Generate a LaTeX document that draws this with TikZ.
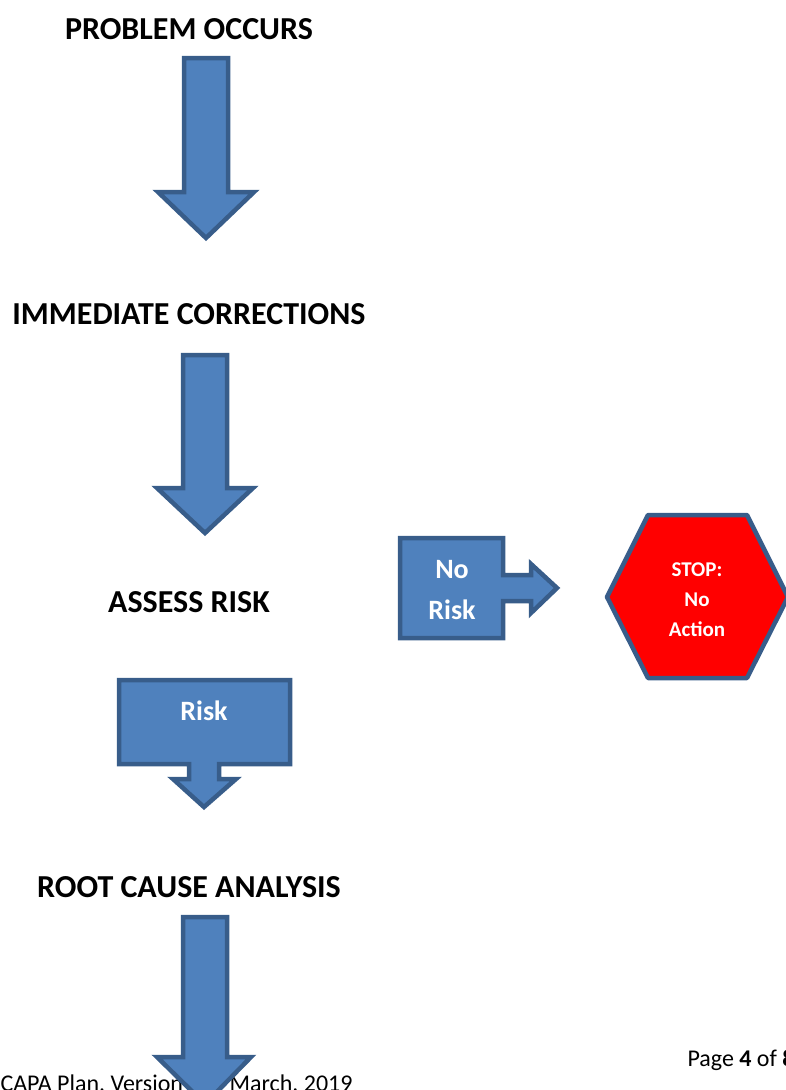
\documentclass[tikz,border=0pt]{standalone}
\usepackage{fontspec}
\setmainfont{Carlito}
\usetikzlibrary{positioning}

\definecolor{arrfill}{HTML}{4F81BD}
\definecolor{arredge}{HTML}{385D8A}
\definecolor{stopred}{HTML}{FF0000}

\tikzset{
  blockarr/.style={draw=arredge, fill=arrfill, line width=4.5pt, line join=miter},
  stopbox/.style={draw=arredge, fill=stopred, line width=4.5pt, line join=round},
  heading/.style={font=\fontsize{32}{38}\selectfont\bfseries, anchor=base},
  calltext/.style={font=\fontsize{28}{41}\selectfont\bfseries, text=white, align=center},
  stoptext/.style={font=\fontsize{21}{30}\selectfont\bfseries, text=white, align=center},
  footer/.style={font=\fontsize{24}{28}\selectfont, anchor=base west}
}

\begin{document}
\begin{tikzpicture}[x=1pt,y=-1pt]
    \useasboundingbox (0,0) rectangle (786,1090);

    % headings
    \node[heading] (prob)   at (189,39)  {PROBLEM OCCURS};
    \node[heading] (imm)    at (189,324) {IMMEDIATE CORRECTIONS};
    \node[heading] (assess) at (189,612) {ASSESS RISK};
    \node[heading] (root)   at (189,897) {ROOT CAUSE ANALYSIS};

    % footer
    \node[footer] (ver)  at (-3,1091) {CAPA Plan, Version 1, 7 March, 2019};
    \node[footer] (page) at (684,1066) {Page \textbf{4} of \textbf{8}};

    % down arrows
    \draw[blockarr] (184,58) -- (228,58) -- (228,192) -- (254,192) -- (206,238)
        -- (158,192) -- (184,192) -- cycle;
    \draw[blockarr] (183,355) -- (227,355) -- (227,488) -- (253,488) -- (205,533)
        -- (157,488) -- (183,488) -- cycle;
    \draw[blockarr] (183,917) -- (227,917) -- (227,1057) -- (251,1057) -- (205,1104)
        -- (157,1057) -- (183,1057) -- cycle;

    % risk callout
    \draw[blockarr] (119,680) -- (290,680) -- (290,764) -- (219,764) -- (219,779)
        -- (236,779) -- (204,807) -- (173,779) -- (189,779) -- (189,764)
        -- (119,764) -- cycle;
    \node[calltext, anchor=base] (risk) at (204,720) {Risk};

    % no risk callout
    \draw[blockarr] (400,538) -- (503,538) -- (503,575) -- (531,575) -- (531,564)
        -- (557,588) -- (531,613) -- (531,601) -- (503,601) -- (503,638)
        -- (400,638) -- cycle;
    \node[calltext] (norisk) at (452,590) {No\\Risk};

    % stop
    \draw[stopbox] (607,597) -- (648,515) -- (747,515) -- (788,597) -- (747,678)
        -- (648,678) -- cycle;
    \node[stoptext] (stop) at (697,600) {STOP:\\No\\Action};

\end{tikzpicture}
\end{document}
